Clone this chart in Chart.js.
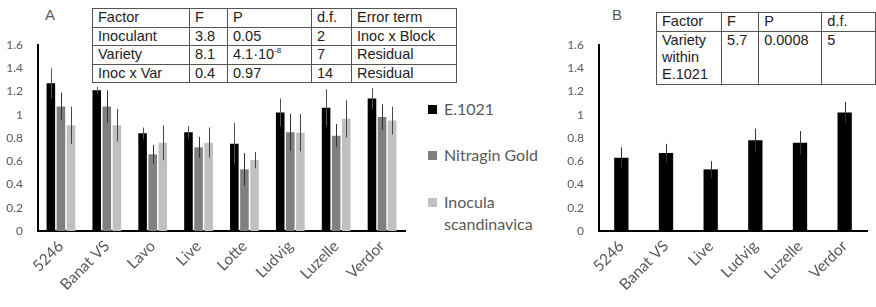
<!DOCTYPE html>
<html>
<head>
<meta charset="utf-8">
<script src="https://cdn.jsdelivr.net/npm/chart.js@4"></script>
<style>
  body { margin: 0; background: #fff; width: 876px; height: 307px; overflow: hidden; position: relative; font-family: Lato, sans-serif; }
  canvas { position: absolute; top: 0; }
  #graficoA { left: 0; }
  #graficoB { left: 560px; }
  .painel { position: absolute; font: 15px "Liberation Sans", Arial, sans-serif; color: #595959; }
  table { position: absolute; border-collapse: collapse; font: 14.5px "Liberation Sans", Arial, sans-serif; color: #222; }
  td { border: 1px solid #555; padding: 0 0 0 5px; height: 17.5px; line-height: 17px; vertical-align: top; white-space: nowrap; }
  sup { font-size: 8px; line-height: 0; }
  .leg { position: absolute; left: 428px; font: 16px Lato, sans-serif; color: #595959; line-height: 22px; }
  .leg span { display: inline-block; width: 9px; height: 9px; margin-right: 7px; vertical-align: 1px; }
</style>
</head>
<body>
<div class="painel" style="left:45px;top:6px;">A</div>
<div class="painel" style="left:612px;top:6px;">B</div>

<table style="left:92px;top:8px;">
  <tr><td style="width:91px">Factor</td><td style="width:32px">F</td><td style="width:78px">P</td><td style="width:34px">d.f.</td><td style="width:99px">Error term</td></tr>
  <tr><td>Inoculant</td><td>3.8</td><td>0.05</td><td>2</td><td>Inoc x Block</td></tr>
  <tr><td>Variety</td><td>8.1</td><td>4.1·10<sup>-8</sup></td><td>7</td><td>Residual</td></tr>
  <tr><td>Inoc x Var</td><td>0.4</td><td>0.97</td><td>14</td><td>Residual</td></tr>
</table>

<table style="left:656px;top:12px;">
  <tr><td style="width:65px">Factor</td><td style="width:36px">F</td><td style="width:63px">P</td><td style="width:60px">d.f.</td></tr>
  <tr><td style="height:52px">Variety<br>within<br>E.1021</td><td>5.7</td><td>0.0008</td><td>5</td></tr>
</table>

<div class="leg" style="top:98px;"><span style="background:#000"></span>E.1021</div>
<div class="leg" style="top:144px;"><span style="background:#808080"></span>Nitragin Gold</div>
<div class="leg" style="top:191px;"><span style="background:#c0c0c0"></span>Inocula<br><span style="background:transparent"></span>scandinavica</div>

<canvas id="graficoA" width="420" height="307"></canvas>
<canvas id="graficoB" width="316" height="307"></canvas>

<script>
// painel A: tres inoculantes por variedade
const variedadesA = ['5246', 'Banat VS', 'Lavo', 'Live', 'Lotte', 'Ludvig', 'Luzelle', 'Verdor'];
const e1021 = [1.27, 1.21, 0.84, 0.85, 0.75, 1.02, 1.06, 1.14];
const e1021Erro = [0.13, 0.03, 0.05, 0.05, 0.18, 0.12, 0.16, 0.09];
const nitragin = [1.07, 1.07, 0.66, 0.72, 0.53, 0.85, 0.82, 0.98];
const nitraginErro = [0.12, 0.14, 0.08, 0.09, 0.14, 0.16, 0.10, 0.11];
const inocula = [0.91, 0.91, 0.76, 0.76, 0.61, 0.845, 0.965, 0.95];
const inoculaErro = [0.16, 0.14, 0.15, 0.13, 0.07, 0.16, 0.16, 0.12];

// painel B: so E.1021
const variedadesB = ['5246', 'Banat VS', 'Live', 'Ludvig', 'Luzelle', 'Verdor'];
const somenteE1021 = [0.63, 0.67, 0.53, 0.78, 0.76, 1.02];
const somenteE1021Erro = [0.09, 0.08, 0.07, 0.10, 0.10, 0.09];

const yTicks = [0, 0.2, 0.4, 0.6, 0.8, 1, 1.2, 1.4, 1.6];

const corTexto = '#595959';

// desenha as barras de erro usando a escala do grafico
const barrasErro = {
    id: 'barrasErro',
    afterDatasetsDraw(chart) {
        const ctx = chart.ctx;
        const y = chart.scales.y;
        chart.data.datasets.forEach((ds, i) => {
            const meta = chart.getDatasetMeta(i);
            meta.data.forEach((bar, j) => {
                const v = ds.data[j];
                const e = ds.erros[j];
                ctx.save();
                ctx.strokeStyle = ds.corErro;
                ctx.lineWidth = 1;
                ctx.beginPath();
                const x = Math.round(bar.x) + 0.5;
                ctx.moveTo(x, y.getPixelForValue(v + e));
                ctx.lineTo(x, y.getPixelForValue(v - e));
                ctx.stroke();
                ctx.restore();
            });
        });
    }
};

function opcoes(larguraY, padDireita) {
    return {
        responsive: false,
        animation: false,
        layout: { padding: { top: 45, right: padDireita, left: 0, bottom: 0 } },
        plugins: { legend: { display: false }, tooltip: { enabled: false } },
        scales: {
            x: {
                grid: { display: false, drawTicks: false },
                border: { display: true, color: '#000', width: 2 },
                ticks: {
                    color: corTexto,
                    font: { family: 'Lato', size: 15.5 },
                    minRotation: 45,
                    maxRotation: 45,
                    autoSkip: false,
                    padding: 6
                },
                afterFit: s => { s.height = 76; }
            },
            y: {
                min: 0,
                max: 1.6,
                grid: { display: false, drawTicks: false },
                border: { display: true, color: '#000', width: 2 },
                afterBuildTicks: s => { s.ticks = yTicks.map(v => ({ value: v })); },
                ticks: {
                    color: corTexto,
                    font: { family: 'Lato', size: 12 },
                    padding: 15,
                    callback: v => String(v)
                },
                afterFit: s => { s.width = larguraY; }
            }
        }
    };
}

new Chart(document.getElementById('graficoA').getContext('2d'), {
    type: 'bar',
    data: {
        labels: variedadesA,
        datasets: [
            { label: 'E.1021', data: e1021, erros: e1021Erro, backgroundColor: '#000000', corErro: '#555', barPercentage: 0.85, categoryPercentage: 0.66 },
            { label: 'Nitragin Gold', data: nitragin, erros: nitraginErro, backgroundColor: '#808080', corErro: '#333', barPercentage: 0.85, categoryPercentage: 0.66 },
            { label: 'Inocula scandinavica', data: inocula, erros: inoculaErro, backgroundColor: '#c0c0c0', corErro: '#444', barPercentage: 0.85, categoryPercentage: 0.66 }
        ]
    },
    options: opcoes(38, 15),
    plugins: [barrasErro]
});

new Chart(document.getElementById('graficoB').getContext('2d'), {
    type: 'bar',
    data: {
        labels: variedadesB,
        datasets: [
            { label: 'E.1021', data: somenteE1021, erros: somenteE1021Erro, backgroundColor: '#000000', corErro: '#333', barPercentage: 0.32, categoryPercentage: 1 }
        ]
    },
    options: opcoes(39, 9),
    plugins: [barrasErro]
});
</script>
</body>
</html>
